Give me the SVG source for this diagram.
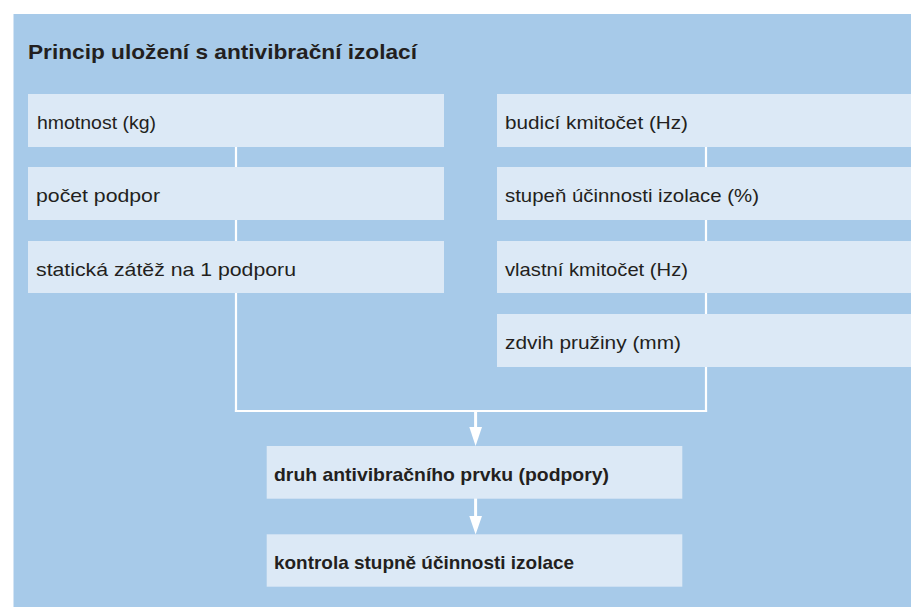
<svg xmlns="http://www.w3.org/2000/svg" width="911" height="607" viewBox="0 0 911 607">
<defs>
<style>
.bg{fill:#a7cae9}
.box{fill:#dce9f6}
.t{font-family:"Liberation Sans",Arial,sans-serif;font-size:19px;fill:#231f20}
.b{font-weight:bold}
.title{font-size:21px}
.ln{stroke:#ffffff;stroke-width:2.2;fill:none}
.ah{fill:#ffffff}
</style>
</defs>
<rect x="0" y="0" width="911" height="607" fill="#ffffff"/>
<rect class="bg" x="13.5" y="14" width="897.5" height="593"/>
<text class="t b title" x="28" y="59" textLength="389" lengthAdjust="spacingAndGlyphs">Princip uložení s antivibrační izolací</text>
<g id="connectors">
<line class="ln" x1="236" y1="147" x2="236" y2="412"/>
<line class="ln" x1="706" y1="147" x2="706" y2="412"/>
<line class="ln" x1="234.9" y1="411" x2="707.1" y2="411"/>
<line class="ln" x1="475.6" y1="411" x2="475.6" y2="428" style="stroke-width:3"/>
<polygon class="ah" points="469.3,427 482,427 475.6,446"/>
<line class="ln" x1="475.6" y1="498" x2="475.6" y2="517" style="stroke-width:3"/>
<polygon class="ah" points="469.3,516 482,516 475.6,534.5"/>
</g>
<g id="n-hmotnost">
<rect class="box" x="28" y="94" width="416" height="53"/>
<text class="t" x="37" y="129" textLength="119" lengthAdjust="spacingAndGlyphs">hmotnost (kg)</text>
</g>
<g id="n-pocet">
<rect class="box" x="28" y="167" width="416" height="53"/>
<text class="t" x="36" y="202" textLength="124" lengthAdjust="spacingAndGlyphs">počet podpor</text>
</g>
<g id="n-staticka">
<rect class="box" x="28" y="241" width="416" height="52"/>
<text class="t" x="36" y="276" textLength="260" lengthAdjust="spacingAndGlyphs">statická zátěž na 1 podporu</text>
</g>
<g id="n-budici">
<rect class="box" x="497" y="94" width="414" height="53"/>
<text class="t" x="505" y="129" textLength="183" lengthAdjust="spacingAndGlyphs">budicí kmitočet (Hz)</text>
</g>
<g id="n-stupen">
<rect class="box" x="497" y="167" width="414" height="53"/>
<text class="t" x="505" y="202" textLength="254" lengthAdjust="spacingAndGlyphs">stupeň účinnosti izolace (%)</text>
</g>
<g id="n-vlastni">
<rect class="box" x="497" y="241" width="414" height="52"/>
<text class="t" x="505" y="276" textLength="183" lengthAdjust="spacingAndGlyphs">vlastní kmitočet (Hz)</text>
</g>
<g id="n-zdvih">
<rect class="box" x="497" y="314" width="414" height="53"/>
<text class="t" x="505" y="349" textLength="176" lengthAdjust="spacingAndGlyphs">zdvih pružiny (mm)</text>
</g>
<g id="n-druh">
<rect class="box" x="266.7" y="446" width="415.6" height="52.7"/>
<text class="t b" x="274" y="480.5" textLength="335" lengthAdjust="spacingAndGlyphs">druh antivibračního prvku (podpory)</text>
</g>
<g id="n-kontrola">
<rect class="box" x="266.7" y="534.3" width="415.6" height="52.4"/>
<text class="t b" x="274" y="568.5" textLength="300" lengthAdjust="spacingAndGlyphs">kontrola stupně účinnosti izolace</text>
</g>
</svg>
